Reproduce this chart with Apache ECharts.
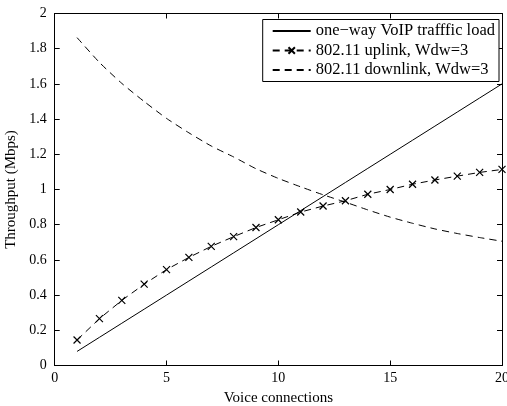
<!DOCTYPE html>
<html>
<head>
<meta charset="utf-8">
<script src="https://cdn.jsdelivr.net/npm/echarts@6/dist/echarts.min.js"></script>
<style>html,body{margin:0;padding:0;background:#fff;}#c{width:507px;height:406px;}</style>
</head>
<body>
<div id="c"></div>
<script>
const connections = [1,2,3,4,5,6,7,8,9,10,11,12,13,14,15,16,17,18,19,20];
const voipLoad = [0.08,0.16,0.24,0.32,0.40,0.48,0.56,0.64,0.72,0.80,0.88,0.96,1.04,1.12,1.20,1.28,1.36,1.44,1.52,1.60];
const uplink = [0.145,0.266,0.370,0.462,0.545,0.614,0.677,0.732,0.784,0.828,0.872,0.906,0.936,0.973,1.000,1.030,1.054,1.076,1.097,1.114];
const downlink = [1.863,1.722,1.603,1.500,1.404,1.322,1.247,1.185,1.118,1.063,1.015,0.970,0.928,0.884,0.843,0.808,0.776,0.750,0.727,0.706];
const seriesNames = ['one\u2212way VoIP trafffic load','802.11 uplink, Wdw=3','802.11 downlink, Wdw=3'];
const xTitle = 'Voice connections';
const yTitle = 'Throughput (Mbps)';

const font = 'Liberation Serif';
const pair = (ys) => connections.map((x,i)=>[x, ys[i]]);
const axisBase = {
  axisLine:{show:true,onZero:false,lineStyle:{color:'#000',width:1}},
  axisTick:{show:true,inside:true,length:5,lineStyle:{color:'#000'}},
  splitLine:{show:false}
};
const chart = echarts.init(document.getElementById('c'), null, {renderer:'canvas'});
chart.setOption({
  animation:false,
  backgroundColor:'#fff',
  grid:{left:54.7,right:5,top:13.5,bottom:40.5,containLabel:false,outerBoundsMode:'none'},
  legend:{
    orient:'vertical', right:8, top:19.5,
    backgroundColor:'#fff', borderColor:'#000', borderWidth:1,
    padding:[3,4,3,9], itemGap:2.5, itemWidth:38, itemHeight:8,
    textStyle:{fontFamily:font,fontSize:16.5,lineHeight:16,color:'#000'},
    data:[
      {name:seriesNames[0],itemStyle:{opacity:0}},
      {name:seriesNames[1]},
      {name:seriesNames[2],itemStyle:{opacity:0}}
    ]
  },
  xAxis:[
    Object.assign({type:'value',min:0,max:20,interval:5,position:'bottom',
      name:xTitle,nameLocation:'middle',nameGap:18,
      nameTextStyle:{fontFamily:font,fontSize:15,color:'#000'},
      axisLabel:{fontFamily:font,fontSize:14,color:'#000',margin:6}}, axisBase),
    Object.assign({type:'value',min:0,max:20,interval:5,position:'top',axisLabel:{show:false}}, axisBase)
  ],
  yAxis:[
    Object.assign({type:'value',min:0,max:2,interval:0.2,position:'left',
      name:yTitle,nameLocation:'middle',nameGap:29,
      nameTextStyle:{fontFamily:font,fontSize:15,color:'#000'},
      axisLabel:{fontFamily:font,fontSize:14,color:'#000',margin:8,
        formatter:(v)=>String(Math.round(v*10)/10)}}, axisBase),
    Object.assign({type:'value',min:0,max:2,interval:0.2,position:'right',axisLabel:{show:false}}, axisBase)
  ],
  series:[
    {name:seriesNames[0],type:'line',data:pair(voipLoad),symbol:'none',
      lineStyle:{color:'#000',width:1,type:'solid'},itemStyle:{color:'#000'}},
    {name:seriesNames[1],type:'line',data:pair(uplink),
      symbol:'path://M0,0L10,10M10,0L0,10',symbolSize:7,showSymbol:true,
      lineStyle:{color:'#000',width:1,type:[7,5]},
      itemStyle:{color:'rgba(0,0,0,0)',borderColor:'#000',borderWidth:1.2}},
    {name:seriesNames[2],type:'line',data:pair(downlink),symbol:'none',smooth:0.2,
      lineStyle:{color:'#000',width:1,type:[7,5]},itemStyle:{color:'#000'}}
  ]
});
</script>
</body>
</html>
